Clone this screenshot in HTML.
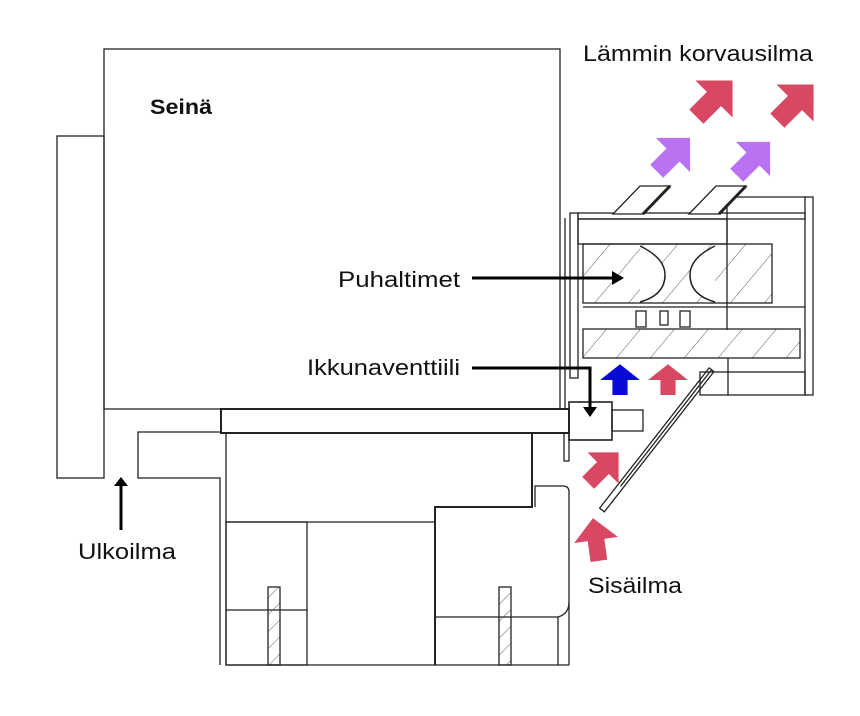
<!DOCTYPE html>
<html><head><meta charset="utf-8"><style>
html,body{margin:0;padding:0;background:#fff;}
svg{display:block;}
text{font-family:"Liberation Sans",sans-serif;fill:#111;}
</style></head><body>
<svg width="860" height="716" viewBox="0 0 860 716" xmlns="http://www.w3.org/2000/svg">
<defs>
<pattern id="h" patternUnits="userSpaceOnUse" width="26" height="26" patternTransform="rotate(40)">
<line x1="0" y1="0" x2="0" y2="26" stroke="#333" stroke-width="0.8"/>
</pattern>
<pattern id="h2" patternUnits="userSpaceOnUse" width="12" height="12" patternTransform="rotate(45)">
<line x1="0" y1="0" x2="0" y2="12" stroke="#333" stroke-width="0.8"/>
</pattern>
<polygon id="ar" points="0,-21 21,0 8,0 8,20 -8,20 -8,0 -21,0"/>
</defs>
<g fill="none" stroke="#222" stroke-width="1.3">
<rect x="104" y="49" width="456" height="360" fill="#fff"/>
<line x1="565" y1="218" x2="565" y2="409"/>
<rect x="57" y="136" width="47" height="342"/>
<rect x="221" y="409" width="348" height="24" stroke-width="2"/>
<path d="M220 665 V478 H138 V432 H220"/>
<path d="M226 433 V665 H569"/>
<path d="M226 522 H435"/>
<rect x="226" y="522" width="81" height="143"/>
<line x1="226" y1="610" x2="307" y2="610"/>
<path d="M532 433 V507 H435 V665" stroke-width="2"/>
<path d="M535 507 V486 H563 Q569 486 569 492 V602 Q569 614 558 617 H435"/>
<line x1="558" y1="617" x2="558" y2="665"/>
<line x1="569" y1="602" x2="569" y2="665"/>
<rect x="268" y="587" width="12" height="78" fill="url(#h2)"/>
<rect x="499" y="587" width="12" height="78" fill="url(#h2)"/>
<rect x="569" y="402" width="43" height="38" stroke-width="1.6"/>
<rect x="612" y="410" width="31" height="21"/>
<rect x="564" y="433" width="5" height="28"/>
<g transform="translate(602,510) rotate(-52)">
<rect x="0" y="-3" width="178" height="6" fill="#fff"/>
<line x1="30" y1="0" x2="178" y2="0"/>
</g>
<rect x="570" y="213" width="8" height="165"/>
<rect x="578" y="213" width="227" height="6"/>
<rect x="805" y="197" width="8" height="198"/>
<rect x="578" y="219" width="149" height="25"/>
<line x1="727" y1="197" x2="805" y2="197"/>
<line x1="727" y1="197" x2="727" y2="330"/>
<rect x="583" y="244" width="189" height="59" fill="url(#h)"/>
<path d="M640 246 Q665 258 665 275 Q665 295 640 302 M715 246 Q690 258 690 275 Q690 295 715 302" stroke-width="1.5" fill="#fff"/>
<line x1="583" y1="307" x2="805" y2="307"/>
<rect x="583" y="329" width="217" height="29" fill="url(#h)"/>
<rect x="636" y="311" width="10" height="16"/>
<rect x="660" y="311" width="8" height="14"/>
<rect x="680" y="311" width="10" height="16"/>
<rect x="700" y="372" width="105" height="23"/>
<line x1="728" y1="358" x2="728" y2="395"/>
<polygon points="613,214 643,214 670,186 640,186" fill="#fff"/>
<line x1="643" y1="214" x2="670" y2="186" stroke-width="3"/>
<polygon points="689,214 719,214 746,186 716,186" fill="#fff"/>
<line x1="719" y1="214" x2="746" y2="186" stroke-width="3"/>
</g>
<g stroke="#000" stroke-width="3" fill="none">
<line x1="472" y1="278" x2="612" y2="278"/>
<polyline points="472,368 590,368 590,408"/>
<line x1="121" y1="530" x2="121" y2="484"/>
</g>
<polygon points="612,271 624,278 612,285" fill="#000"/>
<polygon points="583,407 597,407 590,417" fill="#000"/>
<polygon points="114,486 128,486 121,477" fill="#000"/>
<use href="#ar" transform="translate(620,380) scale(0.95,0.75)" fill="#0a0ad8"/>
<use href="#ar" transform="translate(668,380) scale(0.95,0.75)" fill="#d94862"/>
<use href="#ar" transform="translate(603,468) rotate(45) scale(1.05)" fill="#d94862"/>
<use href="#ar" transform="translate(596,540) rotate(-8) scale(1.05)" fill="#d94862"/>
<use href="#ar" transform="translate(673,155) rotate(45) scale(1.15)" fill="#b872f2"/>
<use href="#ar" transform="translate(753,159) rotate(45) scale(1.15)" fill="#b872f2"/>
<use href="#ar" transform="translate(714,99) rotate(45) scale(1.25)" fill="#d94862"/>
<use href="#ar" transform="translate(795,103) rotate(45) scale(1.25)" fill="#d94862"/>
<text x="150" y="114" font-size="21" font-weight="bold" textLength="62" lengthAdjust="spacingAndGlyphs">Seinä</text>
<text x="583" y="61" font-size="22" textLength="230" lengthAdjust="spacingAndGlyphs">Lämmin korvausilma</text>
<text x="338" y="287" font-size="22" textLength="122" lengthAdjust="spacingAndGlyphs">Puhaltimet</text>
<text x="307" y="375" font-size="22" textLength="153" lengthAdjust="spacingAndGlyphs">Ikkunaventtiili</text>
<text x="78" y="559" font-size="22" textLength="98" lengthAdjust="spacingAndGlyphs">Ulkoilma</text>
<text x="588" y="593" font-size="22" textLength="94" lengthAdjust="spacingAndGlyphs">Sisäilma</text>
</svg>
</body></html>
